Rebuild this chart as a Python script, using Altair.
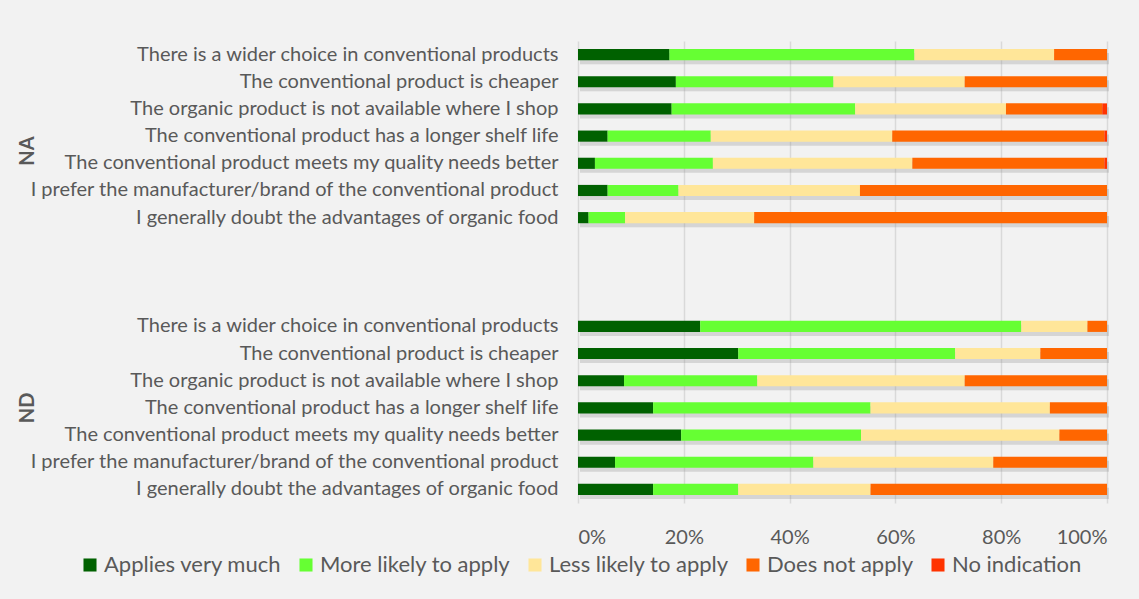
import altair as alt
import pandas as pd

items = [
    "There is a wider choice in conventional products",
    "The conventional product is cheaper",
    "The organic product is not available where I shop",
    "The conventional product has a longer shelf life",
    "The conventional product meets my quality needs better",
    "I prefer the manufacturer/brand of the conventional product",
    "I generally doubt the advantages of organic food",
]
groups = ["NA", "ND"]
categories = ["Applies very much", "More likely to apply", "Less likely to apply",
              "Does not apply", "No indication"]
colors = ["#006100", "#66ff33", "#ffe699", "#ff6600", "#ff3300"]

# values in %, per group, per category, in the order of items
na_very = [17.3, 18.5, 17.7, 5.6, 3.2, 5.6, 2.0]
na_more = [46.3, 29.8, 34.7, 19.5, 22.3, 13.4, 6.9]
na_less = [26.4, 24.8, 28.5, 34.3, 37.7, 34.3, 24.4]
na_not = [10.0, 26.9, 18.2, 40.1, 36.3, 46.7, 66.7]
na_none = [0.0, 0.0, 0.9, 0.5, 0.5, 0.0, 0.0]

nd_very = [23.1, 30.3, 8.7, 14.2, 19.5, 7.0, 14.2]
nd_more = [60.7, 41.0, 25.2, 41.1, 34.0, 37.5, 16.1]
nd_less = [12.5, 16.1, 39.2, 33.9, 37.5, 34.0, 25.0]
nd_not = [3.7, 12.6, 26.9, 10.8, 9.0, 21.5, 44.7]
nd_none = [0.0, 0.0, 0.0, 0.0, 0.0, 0.0, 0.0]

values = {
    "NA": [na_very, na_more, na_less, na_not, na_none],
    "ND": [nd_very, nd_more, nd_less, nd_not, nd_none],
}

rows = []
for g in groups:
    for ci, cat in enumerate(categories):
        for ii, it in enumerate(items):
            rows.append({"key": f"{g}|{it}", "group": g, "item": it,
                         "cat": cat, "ci": ci, "value": values[g][ci][ii]})
df = pd.DataFrame(rows)

domain = [f"NA|{it}" for it in items] + ["gap1", "gap2", "gap3"] + [f"ND|{it}" for it in items]

yscale = alt.Scale(domain=domain, paddingInner=0.59, paddingOuter=0.295)
yaxis = alt.Axis(labelExpr="indexof(datum.value,'|') >= 0 ? split(datum.value,'|')[1] : ''",
                 labelFont="Lato", labelFontSize=20, labelColor="#595959",
                 labelPadding=20, ticks=False, domain=False, grid=False,
                 labelLimit=700, title=None)
yenc = alt.Y("key:N", scale=yscale, axis=yaxis, title=None)

xscale = alt.Scale(domain=[0, 1])
xaxis = alt.Axis(format=".0%", values=[0, 0.2, 0.4, 0.6, 0.8, 1.0],
                 labelFont="Lato", labelFontSize=20, labelColor="#595959",
                 labelPadding=24, ticks=False, domain=False, title=None,
                 grid=True, gridColor="#d9d9d9", gridWidth=1.5)

# shadow spans each full (normalized) bar
totals = df.groupby("key", as_index=False)["value"].sum()
totals["frac"] = totals["value"] / totals["value"]

shadow = alt.Chart(totals).mark_bar(color="#8c8c8c", opacity=0.28, xOffset=2, yOffset=4).encode(
    x=alt.X("frac:Q", scale=xscale, axis=xaxis, title=None),
    y=yenc,
)

bars = alt.Chart(df).mark_bar().encode(
    x=alt.X("value:Q", stack="normalize", scale=xscale, axis=xaxis, title=None),
    y=yenc,
    color=alt.Color("cat:N", scale=alt.Scale(domain=categories, range=colors), title=None,
                    legend=alt.Legend(orient="none", legendX=-499, legendY=513,
                                      direction="horizontal", columns=5,
                                      symbolType="square", symbolSize=170,
                                      symbolStrokeWidth=0,
                                      labelFont="Lato", labelFontSize=22,
                                      labelColor="#595959", labelOffset=3,
                                      labelLimit=400,
                                      columnPadding=13, padding=0)),
    order=alt.Order("ci:Q", sort="ascending"),
)

glabels_na = alt.Chart(pd.DataFrame({"key": [f"NA|{items[3]}"], "g": ["NA"]})).mark_text(
    angle=270, font="Lato", fontWeight="bold", fontSize=20, color="#595959", yOffset=15
).encode(x=alt.value(-550), y=yenc, text="g:N")

glabels_nd = alt.Chart(pd.DataFrame({"key": [f"ND|{items[3]}"], "g": ["ND"]})).mark_text(
    angle=270, font="Lato", fontWeight="bold", fontSize=20, color="#595959", yOffset=0
).encode(x=alt.value(-550), y=yenc, text="g:N")

chart = alt.layer(shadow, bars, glabels_na, glabels_nd).properties(
    width=529, height=462,
    autosize=alt.AutoSizeParams(type="none"),
    padding={"left": 578, "top": 41, "right": 32, "bottom": 96},
    background="#f2f2f2",
).configure_view(stroke=None)

chart.save("out.html", embed_options={"renderer": "svg", "actions": False})
